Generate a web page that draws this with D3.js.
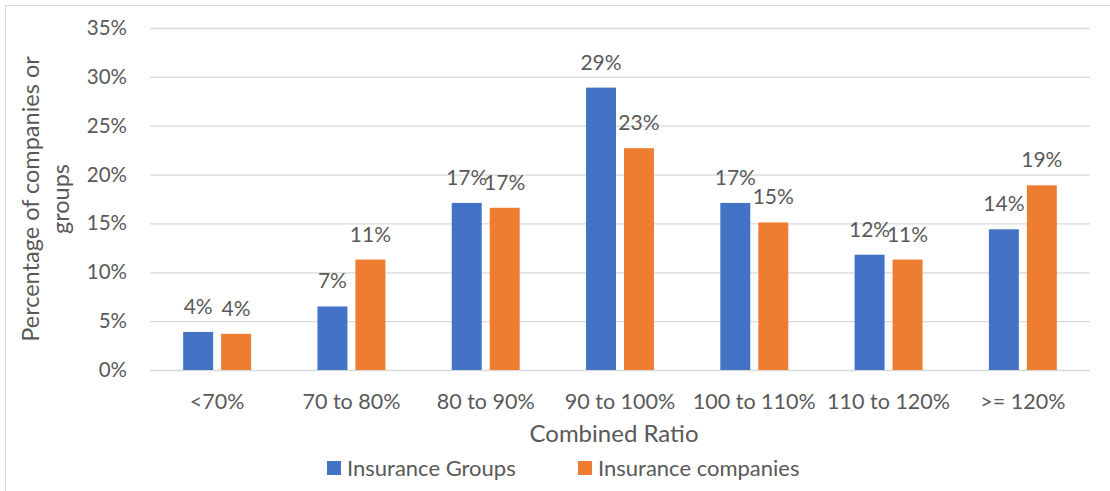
<!DOCTYPE html>
<html>
<head>
<meta charset="utf-8">
<script src="https://cdn.jsdelivr.net/npm/d3@7"></script>
<style>
  html, body { margin: 0; padding: 0; background: #fff; }
  svg { display: block; }
  text { font-family: Lato, "Open Sans", sans-serif; fill: #595959; }
</style>
</head>
<body>
<svg id="chart" width="1110" height="491"></svg>
<script>
const categories = ["<70%", "70 to 80%", "80 to 90%", "90 to 100%", "100 to 110%", "110 to 120%", ">= 120%"];
const seriesNames = ["Insurance Groups", "Insurance companies"];
const groupsValues = [0.039, 0.065, 0.171, 0.289, 0.171, 0.118, 0.144];
const companiesValues = [0.037, 0.113, 0.166, 0.227, 0.151, 0.113, 0.189];
const yTicks = [0, 0.05, 0.10, 0.15, 0.20, 0.25, 0.30, 0.35];
const colors = ["#4472C4", "#ED7D31"];

const svg = d3.select("#chart");
const plot = { left: 150, right: 1090, top: 28, bottom: 370 };

svg.append("rect")
  .attr("x", 5.5).attr("y", 5.5)
  .attr("width", 1110).attr("height", 491)
  .attr("fill", "none").attr("stroke", "#d9d9d9").attr("stroke-width", 1);

const y = d3.scaleLinear().domain([0, 0.35]).range([plot.bottom, plot.top]);
const x0 = d3.scaleBand().domain(categories).range([plot.left, plot.right])
  .paddingInner(0.494).paddingOuter(0.247);
const x1 = d3.scaleBand().domain(seriesNames).range([0, x0.bandwidth()]).paddingInner(0.2105);

// gridlines + y tick labels
const yAxis = d3.axisLeft(y).tickValues(yTicks).tickFormat(d3.format(".0%"))
  .tickSize(-(plot.right - plot.left)).tickPadding(23);
const gy = svg.append("g").attr("transform", `translate(${plot.left},0)`).call(yAxis);
gy.select(".domain").remove();
gy.selectAll(".tick line").attr("stroke", "#d9d9d9").attr("stroke-width", 1.3);
gy.selectAll(".tick text").attr("font-size", 20.5).style("fill", "#595959")
  .attr("font-family", "Lato, sans-serif");

// x axis labels
const xAxis = d3.axisBottom(x0).tickSize(0).tickPadding(24);
const gx = svg.append("g").attr("transform", `translate(0,${plot.bottom})`).call(xAxis);
gx.select(".domain").remove();
gx.selectAll(".tick text").attr("font-size", 21.5).style("fill", "#595959")
  .attr("font-family", "Lato, sans-serif");

const data = categories.map((c, i) => ({ cat: c, vals: [groupsValues[i], companiesValues[i]] }));

const groups = svg.append("g").selectAll("g").data(data).join("g")
  .attr("transform", d => `translate(${x0(d.cat)},0)`);

groups.selectAll("rect").data(d => d.vals.map((v, k) => ({ v, k }))).join("rect")
  .attr("x", d => x1(seriesNames[d.k]))
  .attr("width", x1.bandwidth())
  .attr("y", d => y(d.v))
  .attr("height", d => y(0) - y(d.v))
  .attr("fill", d => colors[d.k]);

groups.selectAll("text.lbl").data(d => d.vals.map((v, k) => ({ v, k }))).join("text")
  .attr("class", "lbl")
  .attr("x", d => x1(seriesNames[d.k]) + x1.bandwidth() / 2)
  .attr("y", d => y(d.v) - 18)
  .attr("text-anchor", "middle")
  .attr("font-size", 21)
  .text(d => d3.format(".0%")(d.v));

// axis titles
svg.append("text").attr("x", 614).attr("y", 442).attr("text-anchor", "middle")
  .attr("font-size", 24).text("Combined Ratio");

const yt = svg.append("text").attr("transform", "translate(0,199) rotate(-90)")
  .attr("text-anchor", "middle").attr("font-size", 23.5);
yt.append("tspan").attr("x", 0).attr("y", 39).text("Percentage of companies or");
yt.append("tspan").attr("x", 0).attr("y", 69).text("groups");

// legend
const legendX = [327, 578];
const lg = svg.append("g").selectAll("g").data(seriesNames).join("g")
  .attr("transform", (d, i) => `translate(${legendX[i]},468)`);
lg.append("rect").attr("x", 0).attr("y", -7).attr("width", 14).attr("height", 14)
  .attr("fill", (d, i) => colors[i]);
lg.append("text").attr("x", 20).attr("y", 7.5).attr("font-size", 22).text(d => d);
</script>
</body>
</html>
